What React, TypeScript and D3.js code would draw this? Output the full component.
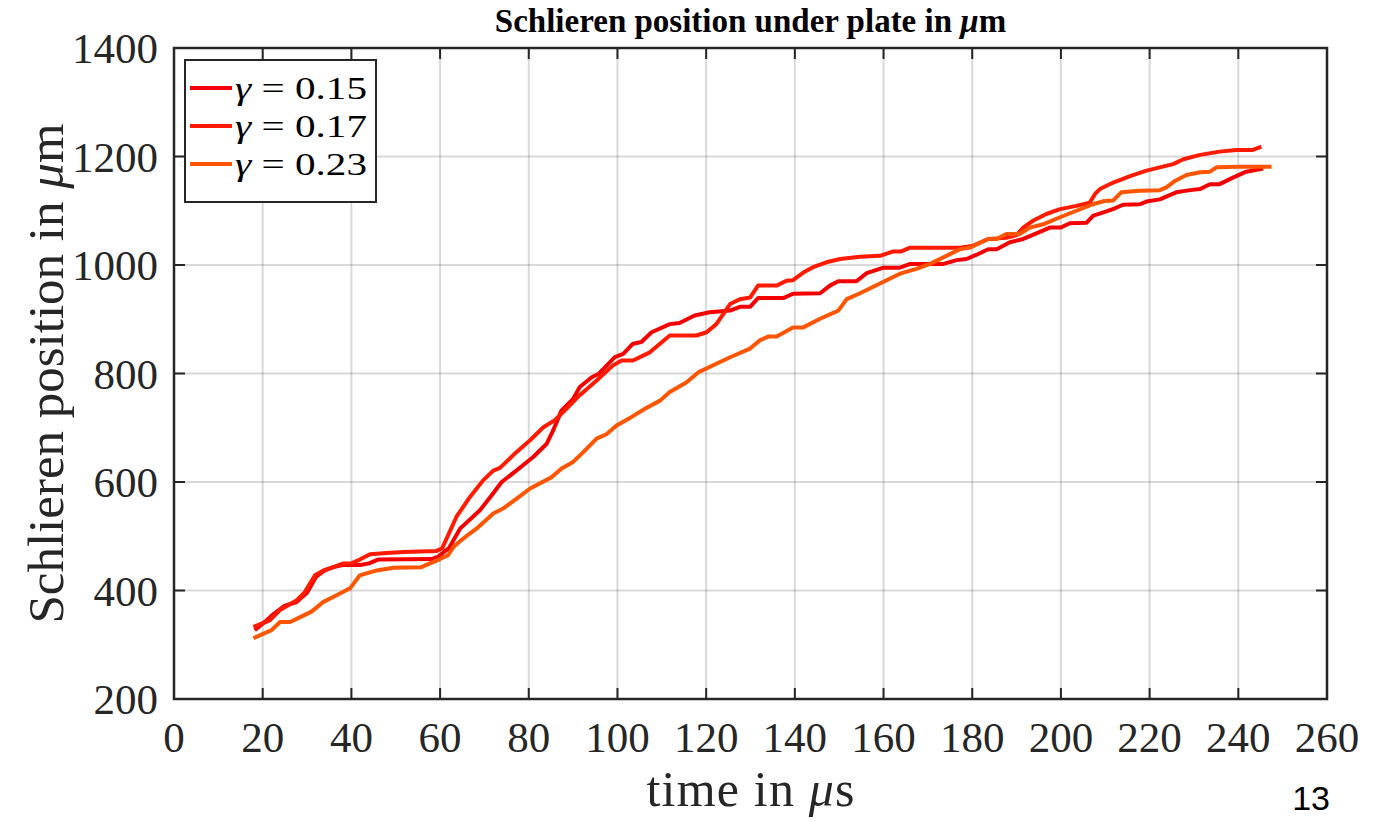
import * as d3 from 'd3';

// time (µs) and schlieren position (µm)
const tA = [17.9, 21.6, 23.9, 27.7, 29.5, 31.8, 33.7, 35.9, 38.2, 40, 41.9, 44.2, 48, 51.7, 59.2, 60.5, 63.7, 66.7, 69.7, 72, 73.5, 77.2, 80.3, 83.3, 85.9, 88.5, 91.5, 95.3, 99, 100.9, 103.5, 107.3, 111.8, 117.8, 120.1, 122.3, 125.4, 127.6, 129.9, 131.7, 135.9, 138.1, 139.6, 141.9, 144.1, 147.1, 150.2, 154.7, 159.2, 162.2, 164, 166, 177.2, 180, 183.6, 187.7, 190, 191.5, 193.8, 196.7, 199.8, 203.5, 206.5, 207.7, 208.8, 211.8, 215.6, 219.3, 222.3, 225.3, 227.6, 231.4, 235.8, 239.6, 243.3, 245.2];
const yA = [333, 345, 364, 382, 397, 428, 437, 443, 450, 450, 457, 467, 469, 471, 473, 478, 536, 572, 603, 621, 626, 655, 677, 701, 714, 735, 760, 787, 815, 824, 824, 839, 870, 870, 876, 891, 928, 937, 940, 962, 962, 971, 972, 986, 996, 1005, 1011, 1015, 1017, 1025, 1025, 1032, 1032, 1035, 1048, 1050, 1055, 1069, 1082, 1094, 1103, 1109, 1115, 1131, 1140, 1152, 1164, 1174, 1180, 1186, 1195, 1203, 1209, 1212, 1212, 1218];

const tB = [18.2, 20.9, 22.5, 25, 27.5, 30, 32, 34, 36, 38, 42, 44, 46, 58, 59.5, 62, 64.5, 69, 71.3, 73.9, 77.2, 81, 84, 85.5, 87.4, 90, 91.5, 94.2, 95.7, 99.4, 101.3, 103.5, 105.4, 107.7, 111.8, 114, 117.4, 120.8, 125.4, 127.6, 129.9, 131.7, 137.4, 139.6, 145.7, 147.9, 149.8, 153.9, 156.2, 160, 163.7, 166, 173.5, 176.5, 178.7, 181, 183.6, 185.5, 188.5, 191.5, 193.8, 197.5, 200, 202, 205.8, 207.3, 210.3, 212, 214, 217.8, 219.3, 222.3, 226, 229.1, 231.4, 233.6, 235.8, 238.8, 241.8, 245.6];
const yB = [327, 345, 357, 372, 378, 396, 425, 437, 443, 447, 447, 450, 457, 458, 462, 478, 514, 548, 572, 600, 621, 646, 670, 695, 732, 753, 775, 793, 799, 830, 836, 855, 858, 876, 891, 893, 907, 913, 916, 923, 923, 939, 939, 947, 948, 962, 970, 970, 985, 995, 995, 1002, 1002, 1009, 1011, 1019, 1029, 1029, 1042, 1048, 1056, 1069, 1069, 1077, 1078, 1091, 1099, 1104, 1111, 1112, 1117, 1121, 1134, 1138, 1140, 1149, 1149, 1161, 1172, 1178];

const tC = [17.9, 22, 23.9, 26.2, 28, 31, 33.7, 35.9, 39.7, 41.9, 45.7, 49.5, 55.8, 57.7, 60, 61.8, 63, 64.8, 66.7, 68.2, 72, 74.2, 77.2, 80.3, 85.2, 87.4, 90, 92.3, 95.3, 97.5, 99.8, 103.2, 106.2, 109.6, 111.8, 115.6, 118.2, 122.3, 125.4, 129.9, 132.1, 134, 135.9, 139.6, 141.9, 145.7, 149.8, 151.7, 154.7, 159.2, 163.7, 167.4, 170.5, 173.5, 177.2, 179.5, 183.6, 185.5, 187.7, 190.7, 193, 196, 199.8, 203.5, 207.2, 209.8, 211.8, 213.6, 217.8, 222.3, 223.8, 225.7, 228.3, 231.4, 233.6, 235.1, 240.3, 247.5];
const yC = [312, 327, 342, 342, 349, 361, 379, 388, 404, 428, 437, 442, 443, 450, 458, 465, 480, 493, 505, 514, 542, 551, 569, 588, 609, 625, 637, 655, 680, 688, 704, 720, 735, 750, 766, 784, 802, 818, 830, 846, 861, 868, 868, 885, 885, 901, 916, 937, 948, 966, 984, 993, 1002, 1014, 1029, 1032, 1048, 1048, 1057, 1057, 1069, 1075, 1088, 1100, 1112, 1118, 1119, 1134, 1137, 1138, 1143, 1155, 1166, 1171, 1172, 1180, 1181, 1181];

const xTicks = d3.range(0, 261, 20);
const yTicks = d3.range(200, 1401, 200);

const series = [
  { label: '0.15', t: tB, y: yB, color: '#f50000' },
  { label: '0.17', t: tA, y: yA, color: '#ff1a00' },
  { label: '0.23', t: tC, y: yC, color: '#ff5500' },
];

const W = 1373;
const H = 822;
const m = { left: 174, right: 1327, top: 48, bottom: 699 };
const serif = '"Liberation Serif", "Times New Roman", serif';
const axisColor = '#262626';

export default function App() {
  const x = d3.scaleLinear().domain([0, 260]).range([m.left, m.right]);
  const y = d3.scaleLinear().domain([200, 1400]).range([m.bottom, m.top]);

  const line = d3.line<[number, number]>()
    .x(d => x(d[0]))
    .y(d => y(d[1]));

  const tickLen = 11;

  return (
    <svg width={W} height={H} style={{ position: 'absolute', left: 0, top: 0, background: '#fff' }}>
      <rect x={0} y={0} width={W} height={H} fill="#fff" />

      {/* grid */}
      {xTicks.slice(1, -1).map(t => (
        <line key={'gx' + t} x1={x(t)} x2={x(t)} y1={m.top} y2={m.bottom}
          stroke="#000" strokeOpacity={0.15} strokeWidth={2} />
      ))}
      {yTicks.slice(1, -1).map(v => (
        <line key={'gy' + v} x1={m.left} x2={m.right} y1={y(v)} y2={y(v)}
          stroke="#000" strokeOpacity={0.15} strokeWidth={2} />
      ))}

      {/* data lines */}
      {series.map(s => (
        <path key={s.label}
          d={line(s.t.map((t, i) => [t, s.y[i]] as [number, number])) || ''}
          fill="none" stroke={s.color} strokeWidth={4} strokeLinejoin="round" />
      ))}

      {/* ticks (inward, all four sides) */}
      {xTicks.map(t => (
        <g key={'tx' + t}>
          <line x1={x(t)} x2={x(t)} y1={m.bottom} y2={m.bottom - tickLen} stroke={axisColor} strokeWidth={2} />
          <line x1={x(t)} x2={x(t)} y1={m.top} y2={m.top + tickLen} stroke={axisColor} strokeWidth={2} />
          <text x={x(t)} y={m.bottom + 53} textAnchor="middle" fontFamily={serif} fontSize={43} fill={axisColor}>{t}</text>
        </g>
      ))}
      {yTicks.map(v => (
        <g key={'ty' + v}>
          <line x1={m.left} x2={m.left + tickLen} y1={y(v)} y2={y(v)} stroke={axisColor} strokeWidth={2} />
          <line x1={m.right} x2={m.right - tickLen} y1={y(v)} y2={y(v)} stroke={axisColor} strokeWidth={2} />
          <text x={m.left - 16} y={y(v) + 15} textAnchor="end" fontFamily={serif} fontSize={43} fill={axisColor}>{v}</text>
        </g>
      ))}

      {/* box */}
      <rect x={m.left} y={m.top} width={m.right - m.left} height={m.bottom - m.top}
        fill="none" stroke={axisColor} strokeWidth={2.5} />

      {/* title */}
      <text x={(m.left + m.right) / 2} y={32} textAnchor="middle" fontFamily={serif} fontWeight="bold" fontSize={33} fill="#000">
        Schlieren position under plate in <tspan fontStyle="italic">μ</tspan>m
      </text>

      {/* axis labels */}
      <text x={(m.left + m.right) / 2} y={806} textAnchor="middle" fontFamily={serif} fontSize={50} fill={axisColor}
        textLength={208} lengthAdjust="spacing">
        time in <tspan fontStyle="italic">μ</tspan>s
      </text>
      <text transform={`translate(63, ${(m.top + m.bottom) / 2}) rotate(-90)`} textAnchor="middle"
        fontFamily={serif} fontSize={51} fill={axisColor}>
        Schlieren position in <tspan fontStyle="italic">μ</tspan>m
      </text>

      {/* legend */}
      <rect x={185} y={60} width={191} height={142} fill="#fff" stroke={axisColor} strokeWidth={2} />
      {series.map((s, i) => {
        const ly = 88 + i * 38;
        return (
          <g key={'lg' + s.label}>
            <line x1={190} x2={232} y1={ly} y2={ly} stroke={s.color} strokeWidth={4} />
            <text x={235} y={ly + 11} fontFamily={serif} fontSize={32} fill="#000"
              textLength={132} lengthAdjust="spacingAndGlyphs">
              <tspan fontStyle="italic">γ</tspan> = {s.label}
            </text>
          </g>
        );
      })}

      {/* slide number */}
      <text x={1330} y={810} textAnchor="end" fontFamily='"Liberation Sans", Arial, sans-serif' fontSize={34} fill="#000">13</text>
    </svg>
  );
}
